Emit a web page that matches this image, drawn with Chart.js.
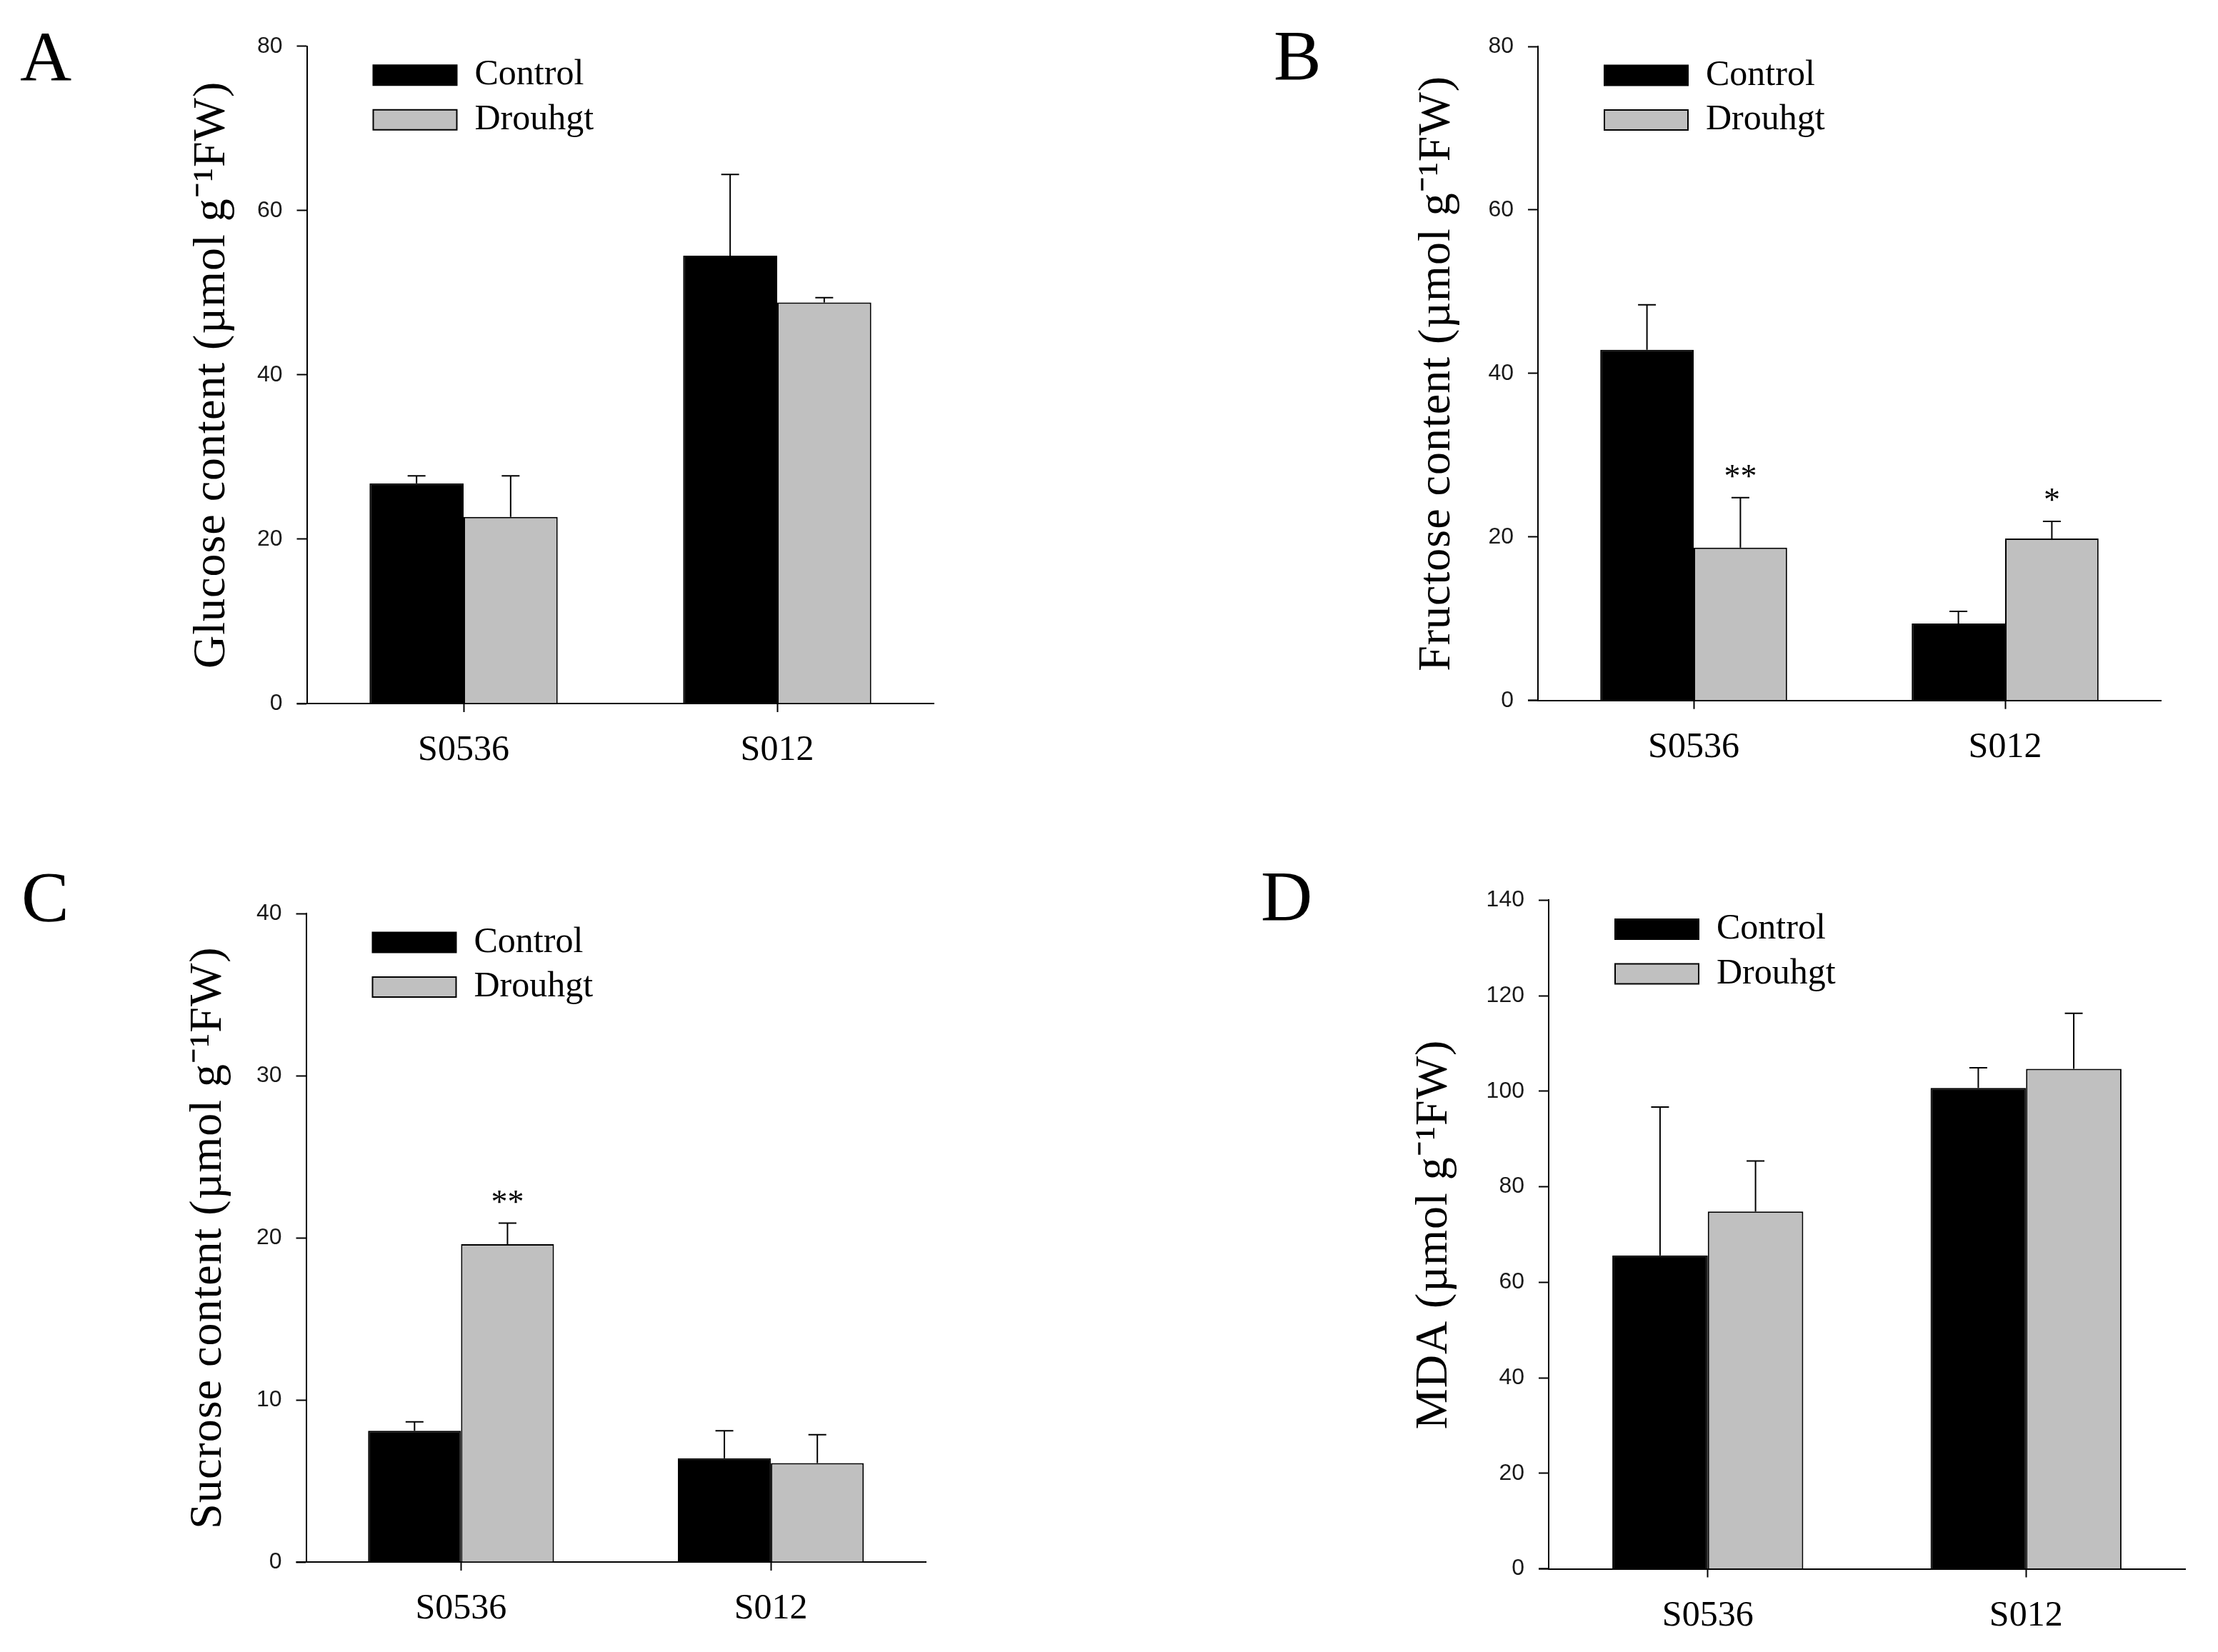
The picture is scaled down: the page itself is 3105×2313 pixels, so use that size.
<!DOCTYPE html>
<html>
<head>
<meta charset="utf-8">
<script src="https://cdn.jsdelivr.net/npm/chart.js@4.4.1/dist/chart.umd.min.js"></script>
<style>
  html, body { margin: 0; padding: 0; background: #fff; }
  body { width: 3105px; height: 2313px; position: relative; overflow: hidden; }
  canvas { position: absolute; }
  .lbl { position: absolute; font-family: 'Liberation Serif', 'Times New Roman', serif; font-size: 100px; line-height: 100px; color: #000; }
</style>
</head>
<body>
<canvas id="cA" width="1552" height="1156" style="left:0px;top:0px"></canvas>
<canvas id="cB" width="1553" height="1156" style="left:1552px;top:0px"></canvas>
<canvas id="cC" width="1552" height="1157" style="left:0px;top:1156px"></canvas>
<canvas id="cD" width="1553" height="1157" style="left:1552px;top:1156px"></canvas>
<div class="lbl" style="left:28px;top:30px">A</div>
<div class="lbl" style="left:1783px;top:28px">B</div>
<div class="lbl" style="left:30px;top:1206px">C</div>
<div class="lbl" style="left:1765px;top:1205px">D</div>
<script>
// ---------------- data ----------------
const categories = ['S0536', 'S012'];
const seriesNames = ['Control', 'Drouhgt'];

const glucoseControl    = [26.8, 54.5];
const glucoseControlErr = [0.9, 9.9];
const glucoseDrought    = [22.7, 48.8];
const glucoseDroughtErr = [5.0, 0.6];
const glucoseTicks      = [0, 20, 40, 60, 80];

const fructoseControl    = [42.9, 9.4];
const fructoseControlErr = [5.5, 1.5];
const fructoseDrought    = [18.7, 19.8];
const fructoseDroughtErr = [6.1, 2.1];
const fructoseDroughtSig = ['**', '*'];
const fructoseTicks      = [0, 20, 40, 60, 80];

const sucroseControl    = [8.1, 6.4];
const sucroseControlErr = [0.55, 1.7];
const sucroseDrought    = [19.6, 6.1];
const sucroseDroughtErr = [1.3, 1.75];
const sucroseDroughtSig = ['**', ''];
const sucroseTicks      = [0, 10, 20, 30, 40];

const mdaControl    = [65.6, 100.7];
const mdaControlErr = [31.1, 4.2];
const mdaDrought    = [74.8, 104.7];
const mdaDroughtErr = [10.6, 11.6];
const mdaTicks      = [0, 20, 40, 60, 80, 100, 120, 140];

const titleGlucose  = 'Glucose content (µmol g⁻¹FW)';
const titleFructose = 'Fructose content (µmol g⁻¹FW)';
const titleSucrose  = 'Sucrose content (µmol g⁻¹FW)';
const titleMDA      = 'MDA (µmol g⁻¹FW)';

// ---------------- styling / plugins ----------------
const SERIF = "'Liberation Serif', 'Times New Roman', serif";
const SANS = "'Liberation Sans', Arial, sans-serif";

const errorBarPlugin = {
  id: 'errorBars',
  afterDatasetsDraw(chart) {
    const ctx = chart.ctx;
    const y = chart.scales.y;
    ctx.save();
    ctx.strokeStyle = '#000';
    ctx.lineWidth = 2;
    chart.data.datasets.forEach((ds, i) => {
      const meta = chart.getDatasetMeta(i);
      meta.data.forEach((bar, j) => {
        const v = ds.data[j];
        const e = ds.errors ? ds.errors[j] : 0;
        const yBar = y.getPixelForValue(v);
        const yTop = y.getPixelForValue(v + e);
        ctx.beginPath();
        ctx.moveTo(bar.x, yBar);
        ctx.lineTo(bar.x, yTop);
        ctx.moveTo(bar.x - 12.5, yTop);
        ctx.lineTo(bar.x + 12.5, yTop);
        ctx.stroke();
        const s = ds.sig ? ds.sig[j] : '';
        if (s) {
          ctx.fillStyle = '#000';
          ctx.font = '46px ' + SERIF;
          ctx.textAlign = 'center';
          ctx.textBaseline = 'alphabetic';
          ctx.fillText(s, bar.x, yTop - 15);
        }
      });
    });
    // x axis line extends left to the end of the y tick marks
    const ca = chart.chartArea;
    const xb = chart.scales.x.top;
    ctx.beginPath();
    ctx.moveTo(ca.left - 14, xb);
    ctx.lineTo(ca.left, xb);
    ctx.stroke();
    ctx.restore();
  }
};

const legendPlacer = {
  id: 'legendPlacer',
  afterLayout(chart) {
    const lg = chart.legend;
    if (!lg) return;
    const ca = chart.chartArea;
    const pad = 12.5;
    lg.left = ca.left + 93 - pad;
    lg.top = ca.top + 26.5 - (50 - 28) / 2 - pad;
    lg.width = 600;
    lg.height = 300;
    lg.right = lg.left + lg.width;
    lg.bottom = lg.top + lg.height;
  }
};

const titleSpacing = {
  id: 'titleSpacing',
  beforeDraw(chart) {
    const s = chart.scales.y;
    if (!s || s._spacedTitle) return;
    const orig = s.drawTitle;
    s.drawTitle = function () {
      const c = this.ctx;
      c.save();
      c.letterSpacing = '1px';
      orig.call(this);
      c.restore();
    };
    s._spacedTitle = true;
  }
};

function makePanel(id, cfg) {
  const t = cfg.ticks;
  new Chart(document.getElementById(id), {
    type: 'bar',
    data: {
      labels: categories,
      datasets: [
        { label: seriesNames[0], data: cfg.control, errors: cfg.controlErr, sig: cfg.controlSig,
          backgroundColor: '#000000', borderColor: '#000000', borderWidth: 2,
          categoryPercentage: 0.6, barPercentage: 1.0 },
        { label: seriesNames[1], data: cfg.drought, errors: cfg.droughtErr, sig: cfg.droughtSig,
          backgroundColor: '#c0c0c0', borderColor: '#000000', borderWidth: 2,
          categoryPercentage: 0.6, barPercentage: 1.0 }
      ]
    },
    options: {
      responsive: false,
      animation: false,
      devicePixelRatio: 1,
      events: [],
      layout: { padding: { left: 0, top: cfg.padTop, right: cfg.padRight, bottom: 0 } },
      plugins: {
        tooltip: { enabled: false },
        title: { display: false },
        legend: {
          display: true,
          position: 'chartArea',
          align: 'start',
          fullSize: false,
          labels: {
            font: { family: SERIF, size: 50 },
            color: '#000',
            boxWidth: 117,
            boxHeight: 28,
            padding: 12.5,
            textAlign: 'left'
          }
        }
      },
      scales: {
        x: {
          type: 'category',
          offset: true,
          grid: { display: true, offset: false, drawOnChartArea: false, drawTicks: true,
                  tickLength: 12, tickWidth: 2, tickColor: '#000' },
          border: { display: true, color: '#000', width: 2 },
          ticks: { font: { family: SERIF, size: 50 }, color: '#000', padding: 24, maxRotation: 0 },
          afterFit: (s) => { s.height = cfg.xH; }
        },
        y: {
          min: t[0],
          max: t[t.length - 1],
          ticks: { stepSize: t[1] - t[0], font: { family: SANS, size: 32 }, color: '#1a1a1a', padding: 20 },
          grid: { display: true, drawOnChartArea: false, drawTicks: true,
                  tickLength: 14, tickWidth: 2, tickColor: '#000' },
          border: { display: true, color: '#000', width: 2 },
          title: { display: true, text: cfg.title, color: '#000',
                   font: { family: SERIF, size: 64 },
                   padding: { top: cfg.titlePad, bottom: 0 } },
          afterFit: (s) => { s.width = cfg.yW; }
        }
      }
    },
    plugins: [errorBarPlugin, legendPlacer, titleSpacing]
  });
}

makePanel('cA', {
  control: glucoseControl, controlErr: glucoseControlErr,
  drought: glucoseDrought, droughtErr: glucoseDroughtErr,
  ticks: glucoseTicks, title: titleGlucose,
  yW: 429.5, padTop: 64.7, padRight: 244.5, xH: 171, titlePad: 258.5
});
makePanel('cB', {
  control: fructoseControl, controlErr: fructoseControlErr,
  drought: fructoseDrought, droughtErr: fructoseDroughtErr, droughtSig: fructoseDroughtSig,
  ticks: fructoseTicks, title: titleFructose,
  yW: 601, padTop: 65, padRight: 80, xH: 175.3, titlePad: 422
});
makePanel('cC', {
  control: sucroseControl, controlErr: sucroseControlErr,
  drought: sucroseDrought, droughtErr: sucroseDroughtErr, droughtSig: sucroseDroughtSig,
  ticks: sucroseTicks, title: titleSucrose,
  yW: 428.5, padTop: 123, padRight: 256, xH: 126, titlePad: 254
});
makePanel('cD', {
  control: mdaControl, controlErr: mdaControlErr,
  drought: mdaDrought, droughtErr: mdaDroughtErr,
  ticks: mdaTicks, title: titleMDA,
  yW: 616, padTop: 104.4, padRight: 46, xH: 116.5, titlePad: 418
});
</script>
</body>
</html>
